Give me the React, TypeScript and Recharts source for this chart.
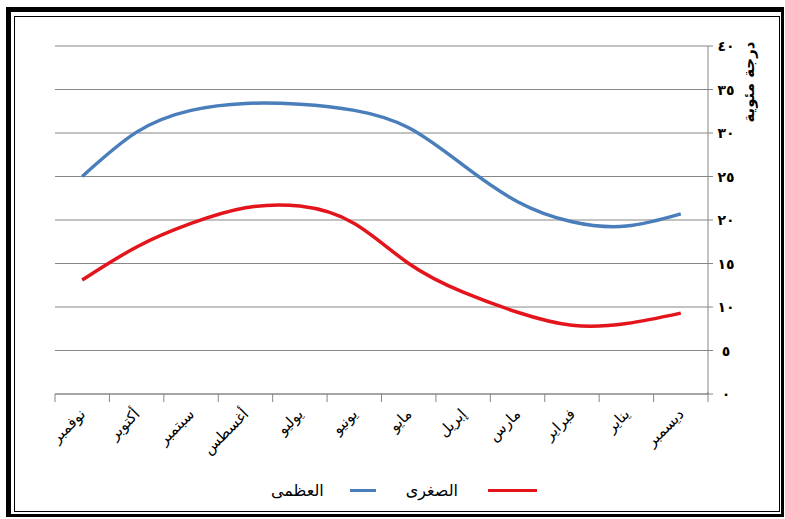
import { LineChart, Line, XAxis, YAxis, CartesianGrid, Label } from "recharts";

const months = [
  "نوفمبر",
  "أكتوبر",
  "سبتمبر",
  "أغسطس",
  "يوليو",
  "يونيو",
  "مايو",
  "إبريل",
  "مارس",
  "فبراير",
  "يناير",
  "ديسمبر",
];
const maxTemp = [25.0, 30.1, 32.6, 33.4, 33.3, 32.6, 30.6, 26.3, 22.1, 19.8, 19.3, 20.7];
const minTemp = [13.1, 16.9, 19.6, 21.4, 21.6, 19.6, 15.0, 11.7, 9.4, 7.9, 8.1, 9.3];
const yTicks = [0, 5, 10, 15, 20, 25, 30, 35, 40];

const seriesNames = { max: "العظمى", min: "الصغرى" };
const BLUE = "#4a7ebb";
const RED = "#e3141b";

const W = 785;
const H = 519;
const margin = { top: 46, right: 37, left: 55, bottom: 55 };
const Y_AXIS_W = 40;
const X_AXIS_H = 70;
const step = (W - margin.left - margin.right - Y_AXIS_W) / months.length;

const data = months.map((m, i) => ({ month: m, max: maxTemp[i], min: minTemp[i] }));

const arabicDigits = (n: number) =>
  String(n).replace(/[0-9]/g, (d) => "٠١٢٣٤٥٦٧٨٩"[Number(d)]);

const FONT = "'DejaVu Sans', sans-serif";

function MonthTick(props: any) {
  const { x, y, payload, index } = props;
  const last = index === months.length - 1;
  const ax = x + 4;
  const ay = y + 21;
  return (
    <g>
      <line x1={x - step / 2} y1={y} x2={x - step / 2} y2={y + 8} stroke="#868686" />
      {last && <line x1={x + step / 2} y1={y - 2} x2={x + step / 2} y2={y + 8} stroke="#868686" />}
      <text
        x={ax}
        y={ay}
        textAnchor="end"
        fontSize={15}
        fontFamily={FONT}
        fill="#000"
        transform={`rotate(-45, ${ax}, ${ay})`}
      >
        {payload.value}
      </text>
    </g>
  );
}

function TempTick(props: any) {
  const { x, y, payload } = props;
  return (
    <text x={x + 13} y={y + 5} textAnchor="middle" fontSize={14} fontWeight="bold" fontFamily={FONT} fill="#000">
      {arabicDigits(payload.value)}
    </text>
  );
}

function AxisTitle(props: any) {
  const vb = props.viewBox || {};
  const cx = (vb.x ?? 708) + 46;
  const cy = (vb.y ?? 46) + 36;
  return (
    <text
      x={cx}
      y={cy}
      textAnchor="middle"
      fontSize={15}
      fontWeight="bold"
      fontFamily={FONT}
      fill="#000"
      transform={`rotate(-90, ${cx}, ${cy})`}
    >
      درجة مئوية
    </text>
  );
}

export default function App() {
  return (
    <div style={{ position: "fixed", left: 0, top: 0, width: W, height: H, background: "#fff" }}>
      <div
        style={{
          position: "absolute",
          left: 6,
          top: 7,
          width: 778,
          height: 510,
          boxSizing: "border-box",
          borderStyle: "solid",
          borderColor: "#000",
          borderWidth: "5px 3px 3px 5px",
        }}
      />
      <div
        style={{
          position: "absolute",
          left: 14,
          top: 16,
          width: 766,
          height: 496,
          boxSizing: "border-box",
          border: "1px solid #000",
        }}
      />
      <div style={{ position: "absolute", left: 0, top: 0 }}>
        <LineChart width={W} height={H} data={data} margin={margin}>
          <CartesianGrid vertical={false} stroke="#868686" />
          <XAxis
            dataKey="month"
            height={X_AXIS_H}
            interval={0}
            padding={{ left: step / 2, right: step / 2 }}
            tickLine={false}
            tickSize={0}
            tickMargin={0}
            stroke="#868686"
            tick={<MonthTick />}
          />
          <YAxis
            orientation="right"
            width={Y_AXIS_W}
            domain={[0, 40]}
            ticks={yTicks}
            tickSize={5}
            tickMargin={0}
            stroke="#868686"
            tick={<TempTick />}
          >
            <Label content={<AxisTitle />} />
          </YAxis>
          <Line
            type="natural"
            dataKey="max"
            name={seriesNames.max}
            stroke={BLUE}
            strokeWidth={3.5}
            dot={false}
            isAnimationActive={false}
          />
          <Line
            type="natural"
            dataKey="min"
            name={seriesNames.min}
            stroke={RED}
            strokeWidth={3.5}
            dot={false}
            isAnimationActive={false}
          />
        </LineChart>
      </div>
      <div
        style={{
          position: "absolute",
          right: W - 537,
          top: 480,
          height: 20,
          display: "flex",
          direction: "rtl",
          alignItems: "center",
          fontFamily: FONT,
          fontSize: 16,
          color: "#000",
        }}
      >
        <span style={{ width: 49, height: 3, background: RED, marginLeft: 30 }} />
        <span style={{ marginLeft: 30 }}>{seriesNames.min}</span>
        <span style={{ width: 26, height: 3, background: BLUE, marginLeft: 26 }} />
        <span>{seriesNames.max}</span>
      </div>
    </div>
  );
}
